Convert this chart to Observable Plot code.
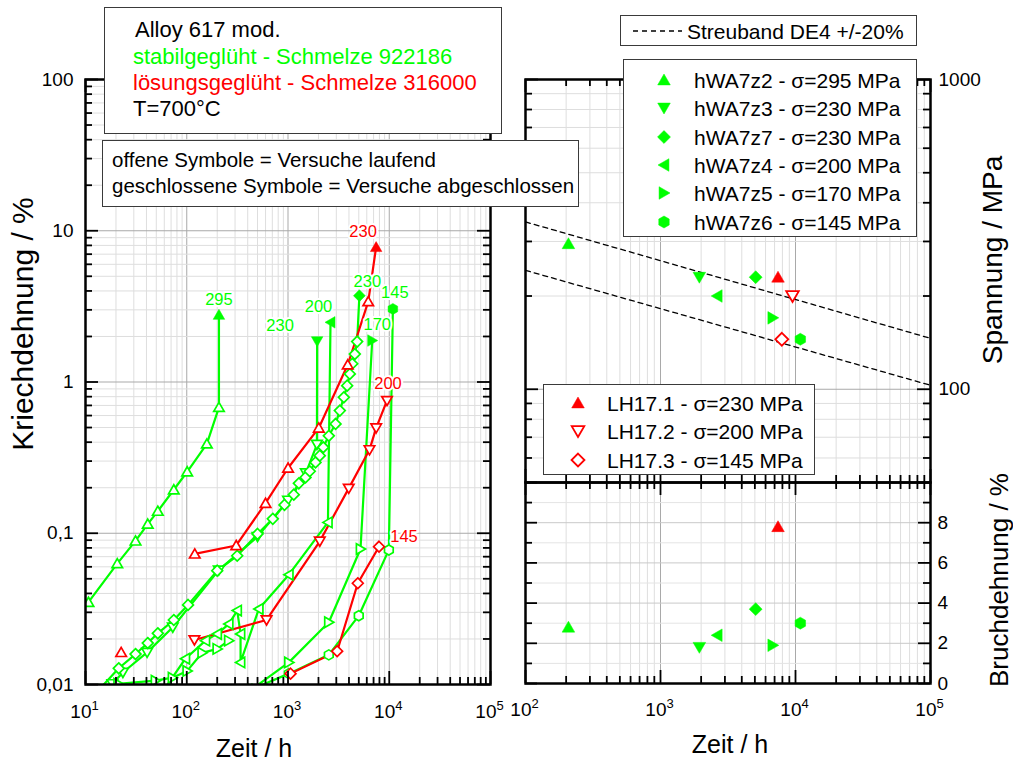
<!DOCTYPE html>
<html><head><meta charset="utf-8">
<script src="https://cdn.jsdelivr.net/npm/d3@7"></script>
<script src="https://cdn.jsdelivr.net/npm/@observablehq/plot@0.6"></script>
<style>
body{margin:0;background:#fff;font-family:"Liberation Sans",Arial,Helvetica,sans-serif;}
#fig{position:relative;width:1013px;height:763px;overflow:hidden;background:#fff;}
#fig > svg{position:absolute;left:0;top:0;}
.box{position:absolute;background:#fff;border:1.5px solid #3a3a3a;box-sizing:border-box;}
.t{position:absolute;white-space:nowrap;line-height:1;}
</style></head><body><div id="fig"></div>
<script>
const FONT = '"Liberation Sans", Arial, Helvetica, sans-serif';
const GREEN = "#00ff00", RED = "#ff0000";
const W = 1013, H = 763;

// Kriechkurven [Zeit / h, Kriechdehnung / %]; null = Lücke in der Kurve
const hWA7z2 = [[10.7,0.035],[20.6,0.063],[31.2,0.089],[41.2,0.115],[51.8,0.14],[74.5,0.194],[101,0.255],[158,0.39],[208,0.68]];
const hWA7z3 = [[18.4,0.0101],[23.4,0.012],[40.6,0.0163],[72.8,0.0239],[207,0.057],[500,0.095],[1000,0.165],[1500,0.25],[1930,0.386]];
const hWA7z7 = [[13.5,0.0092],[21.3,0.0128],[31.2,0.0159],[41.2,0.0188],[51.8,0.0218],[74.5,0.0267],[103,0.0336],[200,0.0566],[315,0.071],[500,0.099],[708,0.1245],[923,0.154],[1140,0.18],[1280,0.214],[1490,0.234],[1640,0.257],[1870,0.294],[2060,0.326],[2230,0.37],[2530,0.441],[2950,0.528],[3250,0.647],[3560,0.792],[3840,0.946],[4080,1.13],[4310,1.32],[4570,1.53],[4820,1.85]];
const hWA7z4 = [[60,0.0093],[97,0.0148],[153,0.0195],[200,0.0216],[260,0.0251],[315,0.0308],[340,0.0216],[340,0.014],[515,0.0316],[1020,0.0532],[2480,0.118]];
const hWA7z5 = [[21,0.0101],[49.1,0.0106],[72.3,0.0111],[101,0.0123],[142,0.0162],[200,0.0172],[260,0.0195],null,[440,0.0093],[1020,0.014],[2530,0.0258],[5200,0.0787]];
const hWA7z6 = [[440,0.0093],[1020,0.0118],[2530,0.0157],[5000,0.0285],[9910,0.0776]];
const LH17_1 = [[22.5,0.0163],null,[120,0.073],[308,0.083],[600,0.158],[1002,0.27],[2014,0.497],[3890,1.30],[6200,3.4]];
const LH17_2 = [[119,0.0197],[614,0.0267],[2060,0.0885],[3980,0.198],[6380,0.356],[7430,0.497],[9500,0.753]];
const LH17_3 = [[1060,0.0118],[3060,0.0166],[4890,0.0467],[7920,0.0815]];

// Proben stabilgeglüht (Schmelze 922186)
const greenNames = ["hWA7z2","hWA7z3","hWA7z7","hWA7z4","hWA7z5","hWA7z6"];
const greenStress = [295,230,230,200,170,145];
const greenRuptureTime = [208,1940,5070,2630,6790,10860];
const greenRuptureStrain = [2.78,1.86,3.72,2.48,1.88,3.04];
const greenElongation = [2.8,1.8,3.7,2.4,1.9,3.0];
const greenCurves = [hWA7z2,hWA7z3,hWA7z7,hWA7z4,hWA7z5,hWA7z6];

// Proben lösungsgeglüht (Schmelze 316000); null = Versuch läuft
const redNames = ["LH17.1","LH17.2","LH17.3"];
const redStress = [230,200,145];
const redRuptureTime = [7420,null,null];
const redRuptureStrain = [7.8,null,null];
const redElongation = [7.8,null,null];
const redCurves = [LH17_1,LH17_2,LH17_3];

// Streuband DE4 +/-20 %
const streubandTime = [100,100000];
const streubandUpper = [347,146];
const streubandLower = [242,103];

// Achsenbeschriftungen
const leftYTicks = [0.01,0.1,1,10,100];
const leftYLabels = ["0,01","0,1","1","10","100"];
const leftXExp = [1,2,3,4,5];
const rightXExp = [2,3,4,5];
const stressTicks = [100,1000];
const stressLabels = ["100","1000"];
const elongTicks = [0,2,4,6,8];
const elongLabels = ["0","2","4","6","8"];

// Darstellung
const symbolOf = {hWA7z2:"up",hWA7z3:"down",hWA7z7:"diamond",hWA7z4:"left",hWA7z5:"right",hWA7z6:"hexagon","LH17.1":"up","LH17.2":"down","LH17.3":"diamond"};
const labelOffset = {hWA7z2:[0,-15],hWA7z3:[-37,-16],hWA7z7:[8,-14],hWA7z4:[-12,-16],hWA7z5:[5,-16],hWA7z6:[2,-16],"LH17.1":[-13,-15],"LH17.2":[1,-17],"LH17.3":[25,-10]};

function poly(pts){
  return {draw(ctx, size){
    const R = Math.sqrt(size/Math.PI);
    pts.forEach(([x,y],i)=> i ? ctx.lineTo(x*R,y*R) : ctx.moveTo(x*R,y*R));
    ctx.closePath();
  }};
}
const SYM = {
  up: poly([[0,-1],[1.05,0.82],[-1.05,0.82]]),
  down: poly([[0,1],[1.05,-0.82],[-1.05,-0.82]]),
  left: poly([[-1,0],[0.82,-1.05],[0.82,1.05]]),
  right: poly([[1,0],[-0.82,-1.05],[-0.82,1.05]]),
  diamond: poly([[0,-1.08],[1.08,0],[0,1.08],[-1.08,0]]),
  hexagon: poly([[0,-1],[0.87,-0.5],[0.87,0.5],[0,1],[-0.87,0.5],[-0.87,-0.5]])
};

const tests = [];
greenNames.forEach((n,i)=> tests.push({name:n, color:GREEN, stress:greenStress[i], curve:greenCurves[i], rupT:greenRuptureTime[i], rupE:greenRuptureStrain[i], elong:greenElongation[i]}));
redNames.forEach((n,i)=> tests.push({name:n, color:RED, stress:redStress[i], curve:redCurves[i], rupT:redRuptureTime[i], rupE:redRuptureStrain[i], elong:redElongation[i]}));
tests.forEach(d => {
  d.pts = d.curve.map(p => p ? {t:p[0], e:p[1]} : {t:NaN, e:NaN});
  const valid = d.pts.filter(p => isFinite(p.t));
  d.last = valid[valid.length-1];
  d.done = d.rupT != null;
  d.endT = d.done ? d.rupT : d.last.t;
});

const MINOR = [2,3,4,5,6,7,8,9];
function logMinor(lo, hi){ const out=[]; for(let e=lo;e<hi;e++) for(const k of MINOR) out.push(+(k*Math.pow(10,e)).toPrecision(6)); return out; }

const GRID_MINOR = "#dedede", GRID_MAJOR = "#a9a9a9";
function gridX(major, minor){ return [Plot.ruleX(minor,{stroke:GRID_MINOR,strokeWidth:1}), Plot.ruleX(major,{stroke:GRID_MAJOR,strokeWidth:1})]; }
function gridY(major, minor){ return [Plot.ruleY(minor,{stroke:GRID_MINOR,strokeWidth:1}), Plot.ruleY(major,{stroke:GRID_MAJOR,strokeWidth:1})]; }
function ticksX(vals, len, fh){ return [Plot.ruleX(vals,{insetTop:fh-len,stroke:"#000",strokeWidth:1.8}), Plot.ruleX(vals,{insetBottom:fh-len,stroke:"#000",strokeWidth:1.8})]; }
function ticksY(vals, len, fw){ return [Plot.ruleY(vals,{insetRight:fw-len,stroke:"#000",strokeWidth:1.8}), Plot.ruleY(vals,{insetLeft:fw-len,stroke:"#000",strokeWidth:1.8})]; }
function expLabels(exps, dyBase){
  const vals = exps.map(e => Math.pow(10,e));
  return [
    Plot.text(vals,{x:d=>d, text:()=> "10", frameAnchor:"bottom", lineAnchor:"bottom", dy:dyBase, dx:6, textAnchor:"end", fontSize:19, fill:"#000"}),
    Plot.text(vals,{x:d=>d, text:exps.map(String), frameAnchor:"bottom", lineAnchor:"bottom", dy:dyBase-8, dx:6, textAnchor:"start", fontSize:13, fill:"#000"})
  ];
}

const style = {background:"transparent", overflow:"visible", fontFamily:FONT};

// ---- linkes Diagramm: Kriechkurven ----
const L = {x0:85, x1:490, y0:79, y1:684};
const curveMarks = [];
tests.forEach(d => {
  const linePts = d.done ? d.pts.concat([{t:d.rupT, e:d.rupE}]) : d.pts;
  curveMarks.push(Plot.line(linePts,{x:"t", y:"e", stroke:d.color, strokeWidth:2.2, clip:true}));
});
tests.forEach(d => {
  curveMarks.push(Plot.dot(d.pts.filter(p=>isFinite(p.t)),{x:"t", y:"e", symbol:SYM[symbolOf[d.name]], r:5, fill:"#fff", stroke:d.color, strokeWidth:1.7, clip:true}));
  if (d.done) curveMarks.push(Plot.dot([{t:d.rupT, e:d.rupE}],{x:"t", y:"e", symbol:SYM[symbolOf[d.name]], r:5.5, fill:d.color, stroke:d.color, strokeWidth:0.5}));
});
tests.forEach(d => {
  const p = d.done ? {t:d.rupT, e:d.rupE} : d.last;
  const [dx,dy] = labelOffset[d.name];
  curveMarks.push(Plot.text([{t:p.t, e:p.e, s:d.stress}],{x:"t", y:"e", text:q=>String(q.s), dx, dy, fill:d.color, fontSize:16.5, stroke:"#fff", strokeWidth:4, paintOrder:"stroke"}));
});

const left = Plot.plot({
  width:W, height:H, marginLeft:L.x0, marginRight:W-L.x1, marginTop:L.y0, marginBottom:H-L.y1,
  style,
  x:{type:"log", domain:[10,1e5], axis:null},
  y:{type:"log", domain:[0.01,100], axis:null},
  marks:[
    ...gridX([100,1000,1e4], logMinor(1,5)),
    ...gridY([0.1,1,10], logMinor(-2,2)),
    ...curveMarks,
    Plot.frame({stroke:"#000", strokeWidth:2.5}),
    ...ticksX(leftXExp.map(e=>Math.pow(10,e)), 13, L.y1-L.y0),
    ...ticksX(logMinor(1,5), 7, L.y1-L.y0),
    ...ticksY(leftYTicks, 13, L.x1-L.x0),
    ...ticksY(logMinor(-2,2), 7, L.x1-L.x0),
    Plot.text(leftYTicks,{y:d=>d, text:leftYLabels, frameAnchor:"left", dx:-12, textAnchor:"end", fontSize:19, fill:"#000"}),
    ...expLabels(leftXExp, 33)
  ]
});

// ---- rechts oben: Spannung über Bruchzeit ----
const R = {x0:525, x1:930, y0:79, ym:482, y1:683};
const stressMarks = [
  Plot.line(streubandTime.map((t,i)=>({t, s:streubandUpper[i]})),{x:"t", y:"s", stroke:"#000", strokeWidth:1.3, strokeDasharray:"5,4"}),
  Plot.line(streubandTime.map((t,i)=>({t, s:streubandLower[i]})),{x:"t", y:"s", stroke:"#000", strokeWidth:1.3, strokeDasharray:"5,4"})
];
tests.forEach(d => {
  stressMarks.push(Plot.dot([{t:d.endT, s:d.stress}],{x:"t", y:"s", symbol:SYM[symbolOf[d.name]], r:6, fill:d.done?d.color:"#fff", stroke:d.color, strokeWidth:d.done?0.5:1.8}));
});
const rightTop = Plot.plot({
  width:W, height:H, marginLeft:R.x0, marginRight:W-R.x1, marginTop:R.y0, marginBottom:H-R.ym,
  style,
  x:{type:"log", domain:[100,1e5], axis:null},
  y:{type:"log", domain:[50,1000], axis:null},
  marks:[
    ...gridX([1000,1e4], logMinor(2,5)),
    ...gridY([100], logMinor(1,3).filter(v=>v>50)),
    ...stressMarks,
    Plot.frame({stroke:"#000", strokeWidth:2.5}),
    ...ticksX(rightXExp.map(e=>Math.pow(10,e)), 13, R.ym-R.y0),
    ...ticksX(logMinor(2,5), 7, R.ym-R.y0),
    ...ticksY(stressTicks, 13, R.x1-R.x0),
    ...ticksY(logMinor(1,3).filter(v=>v>50), 7, R.x1-R.x0),
    Plot.text(stressTicks,{y:d=>d, text:stressLabels, frameAnchor:"right", dx:8, textAnchor:"start", fontSize:19, fill:"#000"})
  ]
});

// ---- rechts unten: Bruchdehnung ----
const elongMarks = tests.filter(d=>d.done).map(d =>
  Plot.dot([{t:d.rupT, a:d.elong}],{x:"t", y:"a", symbol:SYM[symbolOf[d.name]], r:6, fill:d.color, stroke:d.color, strokeWidth:0.5}));
const rightBottom = Plot.plot({
  width:W, height:H, marginLeft:R.x0, marginRight:W-R.x1, marginTop:R.ym, marginBottom:H-R.y1,
  style,
  x:{type:"log", domain:[100,1e5], axis:null},
  y:{domain:[0,10], axis:null},
  marks:[
    ...gridX([1000,1e4], logMinor(2,5)),
    Plot.ruleY([1,3,5,7,9],{stroke:"#e4e4e4"}),
    Plot.ruleY([2,4,6,8],{stroke:"#c9c9c9"}),
    ...elongMarks,
    Plot.frame({stroke:"#000", strokeWidth:2.5}),
    ...ticksX(rightXExp.map(e=>Math.pow(10,e)), 13, R.y1-R.ym),
    ...ticksX(logMinor(2,5), 7, R.y1-R.ym),
    ...ticksY([0,2,4,6,8,10], 12, R.x1-R.x0),
    ...ticksY([1,3,5,7,9], 7, R.x1-R.x0),
    Plot.text(elongTicks,{y:d=>d, text:elongLabels, frameAnchor:"right", dx:7, textAnchor:"start", fontSize:19, fill:"#000"}),
    ...expLabels(rightXExp, 32)
  ]
});

const fig = document.getElementById("fig");
fig.append(left, rightTop, rightBottom);

// ---- Beschriftungen und Legenden ----
function addText(txt, x, y, {size=20, color="#000", anchor="start", rotate=0, parent=fig}={}){
  const d = document.createElement("div");
  d.className = "t"; d.textContent = txt;
  d.style.left = x+"px"; d.style.top = y+"px";
  d.style.fontSize = size+"px"; d.style.color = color;
  const tx = anchor==="middle" ? "-50%" : anchor==="end" ? "-100%" : "0";
  d.style.transform = `translate(${tx},-50%)` + (rotate ? ` rotate(${rotate}deg)` : "");
  parent.appendChild(d);
  return d;
}
function addBox(x, y, w, h){
  const b = document.createElement("div");
  b.className = "box";
  Object.assign(b.style,{left:x+"px", top:y+"px", width:w+"px", height:h+"px"});
  fig.appendChild(b);
}
function swatch(symName, color, open, cx, cy, r=6){
  const p = d3.path();
  SYM[symName].draw(p, r*r*Math.PI);
  const s = r+4;
  const el = document.createElementNS("http://www.w3.org/2000/svg","svg");
  el.setAttribute("width", 2*s); el.setAttribute("height", 2*s);
  el.style.cssText = `position:absolute;left:${cx-s}px;top:${cy-s}px;overflow:visible;`;
  el.innerHTML = `<path transform="translate(${s},${s})" d="${p}" fill="${open?"#fff":color}" stroke="${color}" stroke-width="${open?1.8:0.5}"/>`;
  fig.appendChild(el);
}

// Achsentitel
addText("Zeit / h", 254, 748, {size:25, anchor:"middle"});
addText("Zeit / h", 730, 744, {size:25, anchor:"middle"});
addText("Kriechdehnung / %", 23, 324, {size:30, anchor:"middle", rotate:-90});
addText("Spannung / MPa", 993, 260, {size:28, anchor:"middle", rotate:-90});
addText("Bruchdehnung / %", 999, 580, {size:26, anchor:"middle", rotate:-90});

// Werkstoff / Zustand
addBox(104, 7, 398, 127);
addText("Alloy 617 mod.", 135, 30, {size:22});
addText("stabilgeglüht - Schmelze 922186", 133, 57, {size:22, color:GREEN});
addText("lösungsgeglüht - Schmelze 316000", 133, 83, {size:22, color:RED});
addText("T=700°C", 133, 109, {size:22});

addBox(102, 140, 477, 67);
addText("offene Symbole = Versuche laufend", 112, 160, {size:20.5});
addText("geschlossene Symbole = Versuche abgeschlossen", 112, 186, {size:20.5});

// Streuband
addBox(620, 15, 297, 31);
{
  const el = document.createElementNS("http://www.w3.org/2000/svg","svg");
  el.setAttribute("width",60); el.setAttribute("height",6);
  el.style.cssText = "position:absolute;left:630px;top:28px;";
  el.innerHTML = `<line x1="3" x2="52" y1="3" y2="3" stroke="#000" stroke-width="1.3" stroke-dasharray="5,4"/>`;
  fig.appendChild(el);
}
addText("Streuband DE4 +/-20%", 687, 31, {size:21});

// Legende stabilgeglüht
addBox(623, 59, 294, 178);
greenNames.forEach((n,i) => {
  const cy = 80 + i*28.35;
  swatch(symbolOf[n], GREEN, false, 664, cy);
  addText(`${n} - σ=${greenStress[i]} MPa`, 694, cy, {size:21});
});

// Legende lösungsgeglüht
addBox(543, 384, 272, 91);
redNames.forEach((n,i) => {
  const cy = 402.5 + i*28.8;
  swatch(symbolOf[n], RED, redRuptureTime[i]==null, 578, cy);
  addText(`${n} - σ=${redStress[i]} MPa`, 607, cy, {size:21});
});
</script></body></html>
